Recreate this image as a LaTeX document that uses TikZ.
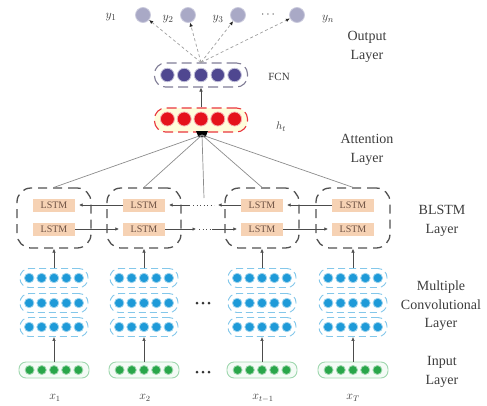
\documentclass[tikz,border=0pt]{standalone}
\usepackage{fontspec}
\setmainfont{Liberation Serif}
\usetikzlibrary{arrows.meta,calc}

\definecolor{outc}{HTML}{A9A9C6}
\definecolor{fcnc}{HTML}{4F4790}
\definecolor{attc}{HTML}{E5121B}
\definecolor{convc}{HTML}{1E9AD8}
\definecolor{inc}{HTML}{29A64A}
\definecolor{lstmfill}{HTML}{F6D2B4}
\definecolor{lstmtext}{HTML}{6E5244}
\definecolor{labc}{HTML}{3C3C3C}
\definecolor{fanc}{HTML}{8C8C8C}

\begin{document}
\begin{tikzpicture}[x=1pt,y=-1pt,
  neuron/.style={circle,inner sep=0pt,minimum size=#1,line width=0.8pt},
  convring/.style={rectangle,draw=convc!55,dashed,dash pattern=on 7pt off 4pt,
    line width=0.9pt,rounded corners=9pt,minimum width=68pt,minimum height=19pt,inner sep=0pt},
  inbox/.style={rectangle,draw=inc!45,fill=inc!5,line width=0.9pt,rounded corners=7pt,
    minimum width=70pt,minimum height=16pt,inner sep=0pt},
  bbox/.style={rectangle,draw=black!68,dash pattern=on 9pt off 6pt,line width=1.3pt,
    rounded corners=14pt,minimum width=74pt,minimum height=60pt,inner sep=0pt},
  lstm/.style={rectangle,fill=lstmfill,minimum width=42pt,minimum height=13pt,inner sep=0pt,
    text=lstmtext,font=\fontsize{10}{10}\selectfont},
  fbox/.style={rectangle,dash pattern=on 10pt off 5pt,line width=1.1pt,rounded corners=11pt,
    minimum width=93pt,minimum height=24pt,inner sep=0pt},
  upar/.style={draw=black!70,line width=0.6pt,-{Latex[length=4pt,width=3.6pt]}},
  hz/.style={draw=black!70,line width=0.6pt,-{Latex[length=3.5pt,width=3.5pt]},shorten >=4pt},
  hzdots/.style={draw=black!70,line width=0.9pt,dash pattern=on 0.9pt off 2.6pt},
  fan/.style={draw=fanc,line width=0.7pt},
  outar/.style={draw=black!38,line width=0.7pt,dash pattern=on 3pt off 2.5pt,
    -{Latex[length=4pt,width=3.6pt,black!85]}},
  lab/.style={font=\fontsize{14}{18.5}\selectfont,text=labc,align=center,inner sep=0pt},
  small/.style={font=\fontsize{11}{12}\selectfont,text=labc,inner sep=0pt},
]
\useasboundingbox (0,0) rectangle (487,405);

% ---- input layer, convolutional stacks and BLSTM cells, one column per time step
\foreach \c/\cx in {1/54,2/144,3/262,4/353}{
  % input vector
  \node[inbox] (I\c) at (\cx,370) {};
  \foreach \k in {1,...,5}
    \node[neuron=9pt,fill=inc,draw=inc!45] (I\c-\k) at ({\cx+(\k-3)*12.2},370) {};
  % three convolutional rows
  \foreach \r/\ry in {1/278,2/303,3/327}{
    \node[convring] (C\c-\r) at (\cx,\ry) {};
    \foreach \k in {1,...,5}
      \node[neuron=9.5pt,fill=convc,draw=convc!45] (C\c-\r-\k) at ({\cx+(\k-3)*12.4},\ry) {};
  }
  % BLSTM block
  \node[bbox] (B\c) at (\cx,218) {};
  \node[lstm] (Lt\c) at (\cx,205) {LSTM};
  \node[lstm] (Lb\c) at (\cx,229) {LSTM};
  % vertical connections
  \draw[upar] (I\c.north) -- (C\c-3.south);
  \draw[upar] (C\c-1.north) -- (B\c.south);
}

% ellipses between columns 2 and 3
\foreach \dx in {-6,0,6}{
  \fill[black!80] ({203+\dx},303) circle (1.5pt);
  \fill[black!80] ({203+\dx},372) circle (1.5pt);
}

% ---- recurrent connections: backward (top row) and forward (bottom row)
\draw[hz] (Lt2.west) -- (Lt1.east);
\draw[hz] (Lt4.west) -- (Lt3.east);
\draw[hz] (Lb1.east) -- (Lb2.west);
\draw[hz] (Lb3.east) -- (Lb4.west);
\coordinate (g1) at (190,205);
\coordinate (g2) at (218,205);
\coordinate (g3) at (196,229);
\coordinate (g4) at (212,229);
\draw[hz] (g1) -- (Lt2.east);
\draw[hz,shorten >=0pt] (Lt3.west) -- (g2);
\draw[hz,shorten >=0pt] (Lb2.east) -- (g3);
\draw[hz] (g4) -- (Lb3.west);
\coordinate (d1a) at (193,205); \coordinate (d1b) at (214,205);
\coordinate (d2a) at (199,229); \coordinate (d2b) at (211,229);
\draw[hzdots] (d1a) -- (d1b);
\draw[hzdots] (d2a) -- (d2b);

% ---- attention layer
\node[fbox,draw=attc!85,fill=yellow!14] (A) at (201,120) {};
\foreach \k in {1,...,5}
  \node[neuron=14pt,fill=attc,draw=attc!35] (A-\k) at ({201+(\k-3)*16.8},119) {};
\coordinate (att) at (202,135);
\fill[black] (196,131) -- (208,131) -- (205.5,137) -- (198.5,137) -- cycle;
\foreach \c in {1,...,4}
  \draw[fan] (att) -- (B\c.north);
\coordinate (vend) at (204,198);
\draw[fan] (att) -- (vend);

% ---- fully connected layer
\node[fbox,draw=fcnc!55!black!60] (F) at (201,75) {};
\foreach \k in {1,...,5}
  \node[neuron=13.5pt,fill=fcnc,draw=fcnc!35] (F-\k) at ({201+(\k-3)*16.8},75) {};
\draw[upar] (A.north) -- (F.south);

% ---- output layer
\foreach \o/\ox in {1/143,2/188,3/238,4/297}{
  \node[neuron=15pt,fill=outc,draw=outc!60] (O\o) at (\ox,15) {};
  \draw[outar] (F.north) -- (O\o);
}
\node[small,font=\fontsize{13}{13}\selectfont] (ly1) at (111,17) {$y_1$};
\node[small,font=\fontsize{13}{13}\selectfont] (ly2) at (168,19) {$y_2$};
\node[small,font=\fontsize{13}{13}\selectfont] (ly3) at (218,19) {$y_3$};
\node[small,font=\fontsize{13}{13}\selectfont] (lyd) at (268,15) {$\cdots$};
\node[small,font=\fontsize{13}{13}\selectfont] (lyn) at (328,19) {$y_n$};

% ---- side labels
\node[small] (lF) at (279,77) {FCN};
\node[small] (lh) at (281,127) {$h_t$};
\node[lab] (lOut) at (367,47) {Output\\Layer};
\node[lab] (lAtt) at (367,150) {Attention\\Layer};
\node[lab] (lBl) at (442,221) {BLSTM\\Layer};
\node[lab] (lConv) at (441,306) {Multiple\\Convolutional\\Layer};
\node[lab] (lIn) at (442,372) {Input\\Layer};

% ---- input labels
\node[small,font=\fontsize{12}{12}\selectfont] (lx1) at (55,398) {$x_1$};
\node[small,font=\fontsize{12}{12}\selectfont] (lx2) at (145,398) {$x_2$};
\node[small,font=\fontsize{12}{12}\selectfont] (lx3) at (263,398) {$x_{t-1}$};
\node[small,font=\fontsize{12}{12}\selectfont] (lx4) at (353,398) {$x_T$};
\end{tikzpicture}
\end{document}
